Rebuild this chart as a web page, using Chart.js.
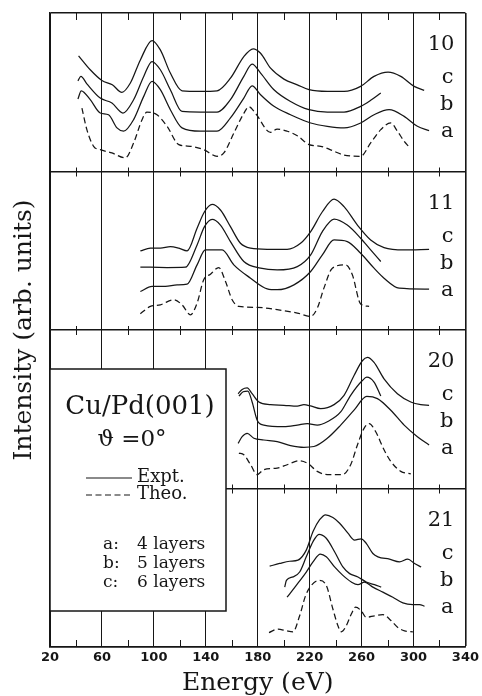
<!DOCTYPE html>
<html>
<head>
<meta charset="utf-8">
<script src="https://cdn.jsdelivr.net/npm/chart.js@4.4.0/dist/chart.umd.min.js"></script>
<style>
  html, body { margin: 0; padding: 0; background: #fff; }
  #grafico { display: block; }
</style>
</head>
<body>
<canvas id="grafico" width="482" height="696"></canvas>
<script>
// Eje de energía (eV)
const energyTicks = [20, 60, 100, 140, 180, 220, 260, 300, 340];
const minorTicks = [40, 80, 120, 160, 200, 240, 280, 320];

// Paneles, de arriba hacia abajo (haz 10, 11, 20, 21)
const panelNames = ['10', '11', '20', '21'];
const curveNames = ['c', 'b', 'a'];

// Haz 10
const e10c = [42, 51, 60, 68, 75.4, 81.9, 89.6, 98.6, 105, 112.7, 121.7, 135.9, 148.7, 159, 169.3, 176.5, 182.2, 189.9, 200.2, 210.5, 219.5, 233.6, 246.5, 259.3, 269.6, 280.4, 290.2, 300.5, 308.2];
const i10c = [73, 64.2, 57.4, 54.7, 49.9, 55.8, 70.4, 82.6, 76.7, 62.1, 50.9, 50.5, 50.9, 58.9, 72.5, 77.4, 74.6, 65.2, 58.3, 54.7, 51.6, 50.5, 50.5, 53.7, 60, 62.7, 60, 53.7, 51.2];
const e10b = [41.5, 43.8, 48.4, 58.7, 67.7, 76.2, 84.4, 92.2, 98.6, 105, 112.7, 121.7, 135.9, 148.7, 159, 169.3, 175.7, 182.2, 192.5, 205.3, 219.5, 233.6, 246.5, 259.3, 267, 274.8];
const i10b = [57.2, 60, 55.3, 46.3, 43.2, 36.9, 45.3, 60, 69.4, 64.2, 51.6, 37.9, 37.5, 37.5, 45.3, 60, 67.7, 62.1, 51.6, 44.2, 39, 37.5, 37.5, 41.1, 44.9, 49.5];
const e10a = [41.5, 44.1, 51, 58.7, 65.1, 71.6, 76.7, 84.4, 92.2, 98.6, 105, 112.7, 121.7, 135.9, 148.7, 159, 169.3, 175.7, 182.2, 192.5, 205.3, 220.8, 233.6, 246.5, 259.3, 269.6, 281.2, 292.8, 303, 312];
const i10a = [45.7, 50.9, 45.3, 36.9, 35.8, 27.5, 25.4, 32.7, 47.4, 56.8, 51.6, 39, 27.5, 25.4, 25.4, 33.8, 46.3, 54.1, 48.4, 41.1, 35.8, 30.6, 28.5, 27.5, 30.6, 35.8, 39, 34.8, 28.5, 25.8];
const e10t = [44.6, 48.4, 53.6, 58.7, 67.7, 78, 84.4, 90.9, 94.7, 102.4, 110.2, 119.2, 128.2, 138.4, 148.7, 153.9, 161.6, 169.3, 173.2, 178.3, 189.9, 195, 202.7, 210.5, 219.5, 228.5, 238.8, 246.5, 259.3, 267, 274.8, 282.5, 287.6, 292.8, 296.6];
const i10t = [40, 26.4, 15.9, 13.8, 11.7, 8.6, 18, 32.7, 37.5, 35.8, 28.5, 17, 15.9, 13.8, 9.6, 11.7, 24.2, 36.7, 40.9, 36.7, 24.7, 26.8, 25.4, 22.6, 17, 15.9, 12.8, 10.3, 9.6, 18, 26.4, 30.6, 25.4, 19.1, 15.5];

// Haz 11
const e11c = [89.6, 97.3, 105, 112.7, 119.2, 125.6, 133.3, 139, 144.9, 151.3, 159, 166.7, 174.5, 187.3, 202.7, 213, 220.8, 229.8, 238.8, 246.5, 256.8, 267, 277.3, 292.8, 312];
const i11c = [49.9, 51.6, 51.6, 52.6, 51.6, 49.9, 64.2, 74.6, 79.2, 75.7, 65.2, 54.7, 51.6, 50.9, 50.9, 54.7, 62.1, 74.6, 82.6, 77.8, 66.2, 56.8, 52, 50.5, 50.9];
const e11b = [89.6, 97.3, 110.2, 124.3, 133.3, 139, 144.9, 151.3, 159, 169.3, 182.2, 195, 210.5, 220.8, 229.8, 238.8, 249, 259.3, 267, 274.8];
const i11b = [39.6, 39.6, 39.4, 39.6, 53.7, 65.2, 69.8, 66.2, 55.8, 43.2, 39, 37.9, 40, 47.4, 62.1, 70, 66.2, 57.9, 50.5, 43.2];
const e11a = [89.6, 98.6, 108.9, 117.9, 125.6, 133.3, 139.7, 152.6, 161.6, 174.5, 187.3, 195, 207.9, 220.8, 229.8, 238.8, 249, 259.3, 269.6, 277.3, 288.9, 312];
const i11a = [24.3, 27.5, 27.5, 28.5, 28.9, 41.1, 50.5, 50.5, 41.1, 32.7, 26, 25.4, 28.5, 36.9, 47.4, 56.8, 55.8, 48.4, 39, 32.7, 26.4, 25.8];
const e11t = [89.6, 97.3, 105, 115.3, 121.7, 128.2, 133.3, 138.4, 143.6, 150, 155.2, 160.3, 165.5, 179.6, 195, 210.5, 220.8, 225.9, 231, 237.5, 247.8, 252.9, 259.3, 265.8];
const i11t = [10.3, 14.9, 15.9, 19.1, 15.9, 9.6, 17, 31.7, 35.2, 39.4, 30.6, 19.1, 14.9, 14.3, 12.8, 10.7, 8.6, 13.8, 26.4, 39, 41.1, 34.8, 16.4, 14.9];

// Haz 20
const e20c = [164.9, 168, 171.9, 175.7, 180.9, 189.9, 200.2, 210.5, 215.6, 220.8, 228.5, 238.8, 246.5, 254.2, 260.6, 264.5, 269.6, 277.3, 287.6, 297.9, 305.6, 312];
const i20c = [59.8, 62.5, 63.5, 59.8, 54.6, 52.9, 52.5, 51.9, 52.9, 52.1, 50.4, 52.9, 58.8, 71.3, 80.6, 82.7, 79.6, 69.2, 59.8, 54.6, 52.9, 52.5];
const e20b = [165.5, 168.8, 172.4, 175.7, 179.6, 184.7, 200.2, 210.5, 218.2, 225.9, 233.6, 243.9, 251.6, 260.6, 264, 269.6, 274.8];
const i20b = [58.3, 61, 61.5, 54.6, 43.1, 40, 39, 40, 41, 40, 42.1, 48.3, 58.8, 68.1, 70.2, 67.1, 58.3];
const e20a = [164.9, 168, 171.9, 177, 184.7, 195, 205.3, 215.6, 223.3, 233.6, 243.9, 254.2, 264, 272.2, 282.5, 292.8, 303, 312];
const i20a = [28.5, 32.7, 34.8, 31.7, 30.6, 29.6, 27.1, 26, 26.5, 31.7, 40, 49.4, 58.1, 56.7, 49.4, 40, 32.7, 27.5];
const e20t = [165.5, 169.3, 174.5, 179.6, 184.7, 195, 202.7, 211.7, 218.2, 225.9, 233.6, 245.2, 251.6, 256.8, 261.9, 265.8, 270.9, 277.3, 282.5, 290.2, 297.9];
const i20t = [22.3, 21.3, 15, 8.8, 11.9, 12.9, 15, 17.5, 16, 10.8, 8.8, 8.8, 15, 27.5, 37.9, 41, 35.8, 24.4, 17.1, 10.8, 9.2];

// Haz 21
const e21c = [189.2, 196.9, 204.6, 211, 217.4, 222.6, 227.7, 232.3, 237.9, 243.1, 249.5, 254.6, 259.7, 263.6, 268.7, 272.6, 281.5, 289.2, 295.6, 300.8, 305.9];
const i21c = [51, 52.7, 54.1, 54.8, 61.1, 72.8, 80.3, 83.4, 81.7, 78.1, 71.8, 67.5, 68.2, 65.4, 59, 56.9, 55.4, 53.7, 55.4, 52.7, 50.5];
const e21b = [200.8, 202.1, 207.2, 212.3, 217.4, 222.6, 227.2, 232.8, 239.2, 245.6, 250.8, 257.2, 263.6, 270, 275.1];
const i21b = [37.8, 42, 44.2, 47.3, 56.9, 66.5, 71.1, 68.6, 60.1, 50.5, 46.3, 44.2, 41, 39.3, 37.8];
const e21a = [202.6, 209.7, 217.4, 222.6, 228.2, 232.8, 239.2, 245.6, 252.1, 257.2, 262.3, 268.7, 276.4, 284.1, 291.8, 299.5, 304.6, 308.5];
const i21a = [31.4, 38.9, 47.3, 53.7, 58.6, 56.9, 50.5, 45.2, 41, 39.3, 41, 37.8, 34.6, 31.4, 27.8, 26.8, 26.8, 25.7];
const e21t = [188.7, 195.6, 202.1, 207.2, 212.3, 216.9, 221.3, 227.2, 232.8, 237.9, 241.8, 244.4, 248.2, 252.1, 255.4, 259.7, 263.6, 270, 276.4, 282.8, 288, 293.1, 299.5];
const i21t = [9.1, 11.3, 10.2, 9.6, 19.7, 32.5, 38.9, 42, 38.9, 24, 13.4, 9.6, 13.4, 20.8, 25.1, 22.9, 18.7, 19.7, 20.4, 16.6, 12.3, 10.2, 9.6];

// Cada panel ocupa 100 unidades del eje Y
const PANEL = 100;
const INK = '#161616';
const SERIF = '"DejaVu Serif", "Liberation Serif", serif';

// Construye un dataset a partir de energías e intensidades
function serie(energias, intensidades, panel, teorica) {
    const base = (panelNames.length - 1 - panel) * PANEL;
    return {
        data: energias.map((e, i) => ({ x: e, y: intensidades[i] + base })),
        borderColor: INK,
        borderWidth: 1.25,
        borderDash: teorica ? [6, 3.5] : [],
        pointRadius: 0,
        fill: false,
        cubicInterpolationMode: 'monotone'
    };
}

const datasets = [
    serie(e10c, i10c, 0), serie(e10b, i10b, 0), serie(e10a, i10a, 0), serie(e10t, i10t, 0, true),
    serie(e11c, i11c, 1), serie(e11b, i11b, 1), serie(e11a, i11a, 1), serie(e11t, i11t, 1, true),
    serie(e20c, i20c, 2), serie(e20b, i20b, 2), serie(e20a, i20a, 2), serie(e20t, i20t, 2, true),
    serie(e21c, i21c, 3), serie(e21b, i21b, 3), serie(e21a, i21a, 3), serie(e21t, i21t, 3, true)
];

// Marcas menores, recuadro de leyenda y rótulos de cada panel
const decoracion = {
    id: 'decoracion',
    beforeDatasetsDraw(chart) {
        const { ctx, chartArea: ca, scales: { x, y } } = chart;
        ctx.save();
        ctx.strokeStyle = INK;
        ctx.lineWidth = 1;

        // marcas menores en cada borde de panel
        for (let b = 0; b <= panelNames.length; b++) {
            const py = y.getPixelForValue(b * PANEL);
            let y0 = py - 4, y1 = py + 5;
            if (b === 0) { y0 = py - 7; y1 = py; }
            if (b === panelNames.length) { y0 = py; y1 = py + 7; }
            minorTicks.forEach(t => {
                const px = Math.round(x.getPixelForValue(t)) + 0.5;
                ctx.beginPath();
                ctx.moveTo(px, y0);
                ctx.lineTo(px, y1);
                ctx.stroke();
            });
        }

        // recuadro de leyenda
        const bx = ca.left, by = ca.top + 356;
        const bw = 176, bh = 242;
        ctx.fillStyle = '#fff';
        ctx.fillRect(bx, by, bw, bh);
        ctx.lineWidth = 1.5;
        ctx.strokeRect(bx, by, bw, bh);

        ctx.fillStyle = INK;
        ctx.textBaseline = 'middle';
        ctx.textAlign = 'center';
        ctx.font = '26px ' + SERIF;
        ctx.fillText('Cu/Pd(001)', bx + 90, by + 38);
        ctx.font = '23px ' + SERIF;
        ctx.fillText('\u03D1 =0\u00B0', bx + 82, by + 71);

        // muestras de línea
        ctx.lineWidth = 1.2;
        ctx.beginPath();
        ctx.moveTo(bx + 36, by + 109);
        ctx.lineTo(bx + 82, by + 109);
        ctx.stroke();
        ctx.setLineDash([6, 3.5]);
        ctx.beginPath();
        ctx.moveTo(bx + 36, by + 126);
        ctx.lineTo(bx + 82, by + 126);
        ctx.stroke();
        ctx.setLineDash([]);

        ctx.textAlign = 'left';
        ctx.font = '18px ' + SERIF;
        ctx.fillText('Expt.', bx + 87, by + 108);
        ctx.fillText('Theo.', bx + 87, by + 125);

        ctx.font = '17px ' + SERIF;
        ['a:', 'b:', 'c:'].forEach((s, i) => {
            ctx.fillText(s, bx + 53, by + 176 + i * 19);
            ctx.fillText((4 + i) + ' layers', bx + 87, by + 176 + i * 19);
        });
        ctx.restore();
    },
    afterDatasetsDraw(chart) {
        const { ctx, chartArea: ca, scales: { y } } = chart;
        ctx.save();
        ctx.fillStyle = INK;
        ctx.textAlign = 'right';
        ctx.textBaseline = 'middle';
        ctx.font = '21px ' + SERIF;
        panelNames.forEach((nombre, p) => {
            const top = y.getPixelForValue((panelNames.length - p) * PANEL);
            ctx.fillText(nombre, ca.right - 11, top + 32);
            curveNames.forEach((c, i) => {
                ctx.fillText(c, ca.right - 12, top + 65 + i * 27);
            });
        });
        ctx.restore();
    }
};

new Chart(document.getElementById('grafico'), {
    type: 'line',
    data: { datasets },
    options: {
        responsive: false,
        devicePixelRatio: 1,
        animation: false,
        events: [],
        layout: { padding: { top: 13, right: 15, left: 0, bottom: 0 } },
        plugins: { legend: { display: false }, tooltip: { enabled: false } },
        scales: {
            x: {
                type: 'linear',
                min: energyTicks[0],
                max: energyTicks[energyTicks.length - 1],
                afterBuildTicks: s => { s.ticks = energyTicks.map(v => ({ value: v })); },
                afterFit: s => { s.height = 49; },
                grid: {
                    color: INK,
                    lineWidth: c => (c.tick && c.tick.value === 340 ? 1.6 : 1),
                    drawTicks: false
                },
                border: { color: INK, width: 1.6 },
                ticks: {
                    color: INK,
                    padding: 3,
                    maxRotation: 0,
                    font: { family: '"DejaVu Sans"', size: 13, weight: 'bold' }
                },
                title: {
                    display: true,
                    text: 'Energy (eV)',
                    color: INK,
                    padding: { top: 0, bottom: 0 },
                    font: { family: SERIF, size: 25, lineHeight: 1 }
                }
            },
            y: {
                type: 'linear',
                min: 0,
                max: panelNames.length * PANEL,
                afterFit: s => { s.width = 50; },
                grid: { color: INK, lineWidth: 1.6, drawTicks: false },
                border: { color: INK, width: 1.6 },
                ticks: { display: false, stepSize: PANEL },
                title: {
                    display: true,
                    text: 'Intensity (arb. units)',
                    color: INK,
                    padding: { top: 12, bottom: 0 },
                    font: { family: SERIF, size: 25, lineHeight: 1 }
                }
            }
        }
    },
    plugins: [decoracion]
});
</script>
</body>
</html>
